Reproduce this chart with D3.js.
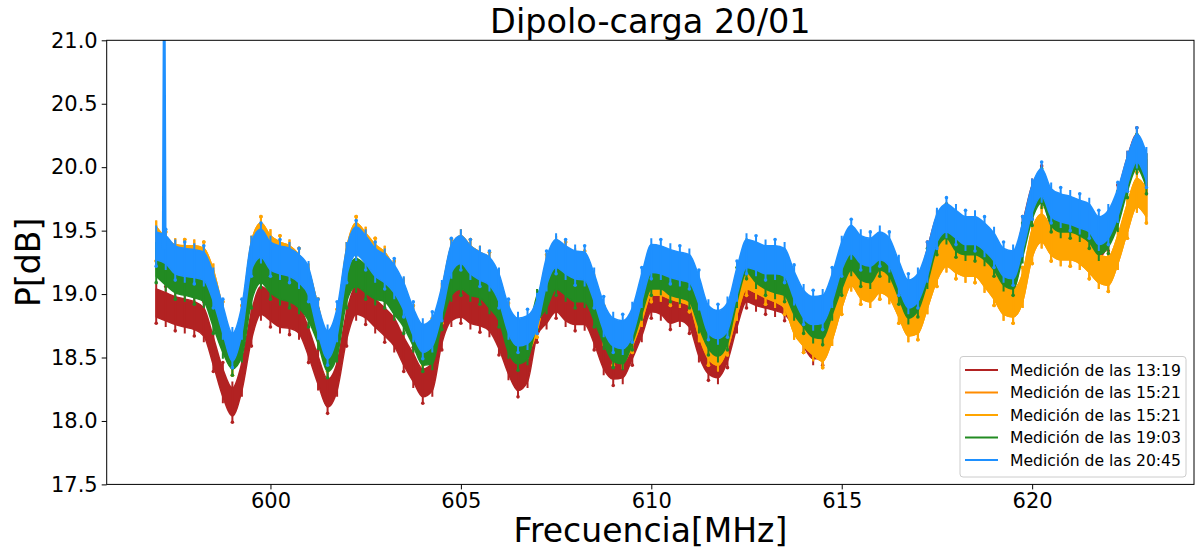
<!DOCTYPE html>
<html><head><meta charset="utf-8">
<script src="https://cdn.jsdelivr.net/npm/d3@7"></script>
<style>
html,body{margin:0;padding:0;background:#fff;}
text{font-family:"DejaVu Sans",sans-serif;fill:#000;}
</style></head>
<body>
<svg id="chart" width="1196" height="551"></svg>
<script>
const freq = [
597.00,597.25,597.50,597.75, 598.00,598.25,598.50,598.75, 599.00,599.25,599.50,599.75,
600.00,600.25,600.50,600.75, 601.00,601.25,601.50,601.75, 602.00,602.25,602.50,602.75,
603.00,603.25,603.50,603.75, 604.00,604.25,604.50,604.75, 605.00,605.25,605.50,605.75,
606.00,606.25,606.50,606.75, 607.00,607.25,607.50,607.75, 608.00,608.25,608.50,608.75,
609.00,609.25,609.50,609.75, 610.00,610.25,610.50,610.75, 611.00,611.25,611.50,611.75,
612.00,612.25,612.50,612.75, 613.00,613.25,613.50,613.75, 614.00,614.25,614.50,614.75,
615.00,615.25,615.50,615.75, 616.00,616.25,616.50,616.75, 617.00,617.25,617.50,617.75,
618.00,618.25,618.50,618.75, 619.00,619.25,619.50,619.75, 620.00,620.25,620.50,620.75,
621.00,621.25,621.50,621.75, 622.00,622.25,622.50,622.75, 623.00];

const p1319 = [
18.93,18.90,18.87,18.85, 18.83,18.78,18.55,18.30, 18.15,18.35,18.75,18.95,
18.90,18.85,18.84,18.80, 18.62,18.40,18.22,18.35, 18.75,18.95,18.92,18.85,
18.78,18.70,18.55,18.42, 18.30,18.35,18.72,18.90, 18.93,18.88,18.86,18.82,
18.68,18.48,18.35,18.42, 18.78,18.88,18.97,18.90, 18.87,18.87,18.72,18.52,
18.44,18.45,18.60,18.78, 18.97,18.95,18.88,18.90, 18.85,18.62,18.48,18.45,
18.58,18.85,19.05,19.02, 19.00,18.98,18.95,18.85, 18.70,18.60,18.60,18.92,
19.15,19.28,19.20,19.18, 19.27,19.22,19.05,18.90, 18.98,19.25,19.50,19.55,
19.45,19.40,19.40,19.36, 19.28,19.17,19.15,19.45, 19.75,19.85,19.65,19.60,
19.58,19.55,19.50,19.40, 19.50,19.70,19.97,20.15, 19.95];

const p1521 = [
19.42,19.33,19.28,19.27, 19.27,19.25,19.08,18.78, 18.52,18.75,19.30,19.45,
19.35,19.30,19.27,19.20, 19.08,18.80,18.55,18.72, 19.25,19.45,19.37,19.28,
19.22,19.10,18.97,18.75, 18.60,18.65,18.93,19.27, 19.35,19.27,19.22,19.17,
19.03,18.77,18.62,18.65, 18.82,19.15,19.30,19.25, 19.20,19.18,19.00,18.75,
18.60,18.57,18.70,18.90, 19.10,19.10,19.07,19.05, 19.02,18.78,18.60,18.55,
18.68,18.95,19.15,19.12, 19.08,19.05,19.00,18.80, 18.70,18.63,18.58,18.75,
19.00,19.18,19.08,19.05, 19.12,19.08,18.93,18.78, 18.80,19.00,19.22,19.33,
19.28,19.25,19.25,19.17, 19.07,18.95,18.93,19.05, 19.40,19.52,19.42,19.38,
19.38,19.35,19.28,19.20, 19.18,19.35,19.60,19.80, 19.72];

const p1903 = [
19.25,19.18,19.12,19.10, 19.08,19.05,18.85,18.65, 18.52,18.62,19.05,19.20,
19.12,19.07,19.05,19.00, 18.90,18.72,18.50,18.62, 19.05,19.17,19.12,19.07,
19.05,18.95,18.85,18.70, 18.55,18.56,18.88,19.10, 19.15,19.10,19.08,19.00,
18.90,18.65,18.56,18.60, 18.88,19.00,19.15,19.10, 19.05,19.05,18.90,18.72,
18.58,18.56,18.72,18.95, 19.15,19.15,19.10,19.08, 19.05,18.85,18.68,18.62,
18.72,19.05,19.28,19.20, 19.15,19.12,19.10,18.95, 18.85,18.77,18.76,18.95,
19.15,19.30,19.22,19.20, 19.30,19.25,19.08,18.92, 18.98,19.20,19.47,19.55,
19.45,19.42,19.42,19.38, 19.30,19.18,19.15,19.40, 19.70,19.83,19.65,19.60,
19.60,19.57,19.52,19.42, 19.48,19.65,19.92,20.10, 19.95];

const p2045 = [
19.38,19.35,19.27,19.25, 19.24,19.22,19.05,18.80, 18.58,18.80,19.30,19.40,
19.30,19.27,19.25,19.20, 19.10,18.80,18.60,18.78, 19.25,19.42,19.35,19.25,
19.20,19.12,18.98,18.78, 18.65,18.70,18.95,19.28, 19.35,19.27,19.22,19.18,
19.05,18.80,18.70,18.72, 18.85,19.18,19.32,19.27, 19.23,19.22,19.05,18.82,
18.70,18.68,18.78,19.05, 19.28,19.27,19.24,19.22, 19.20,19.03,18.80,18.76,
18.82,19.10,19.32,19.30, 19.27,19.27,19.25,19.07, 18.92,18.87,18.88,19.05,
19.30,19.43,19.35,19.33, 19.38,19.33,19.15,19.00, 19.05,19.25,19.52,19.60,
19.55,19.50,19.50,19.45, 19.37,19.25,19.23,19.45, 19.75,19.88,19.72,19.68,
19.66,19.63,19.60,19.50, 19.55,19.72,19.97,20.15, 20.00];

// single-sample spike in the 20:45 measurement
const spikeFreq = [597.18, 597.21, 597.24];
const spikeP = [19.35, 21.60, 19.35];

const seriesLabels = ["Medición de las 13:19","Medición de las 15:21","Medición de las 15:21","Medición de las 19:03","Medición de las 20:45"];
const seriesValues = [p1319, p1521, p1521, p1903, p2045];
const seriesColors = ["#b22222","#ff8c00","#ffa500","#228b22","#1e90ff"];

const xTicks = [600,605,610,615,620];
const yTicks = [17.5,18.0,18.5,19.0,19.5,20.0,20.5,21.0];

const svg = d3.select("#chart");
const L = 106.7, R = 1194, T = 40.3, B = 484.4;
const x = d3.scaleLinear().domain([595.7, 624.25]).range([L, R]);
const y = d3.scaleLinear().domain([17.5, 21.0]).range([B, T]);

svg.append("defs").append("clipPath").attr("id","clip")
  .append("rect").attr("x",L).attr("y",T).attr("width",R-L).attr("height",B-T);

const plot = svg.append("g").attr("clip-path","url(#clip)");
const band = 0.11, bar = 0.16;

seriesValues.forEach((vals, si) => {
  const col = seriesColors[si];
  const pts = freq.map((f,i)=>({f, v: vals[i]}));
  const g = plot.append("g");
  g.append("path").datum(pts)
    .attr("fill", col).attr("stroke", col).attr("stroke-width", 1.5).attr("stroke-linejoin","round")
    .attr("d", d3.area().curve(d3.curveMonotoneX).x(d=>x(d.f)).y0(d=>y(d.v-band)).y1(d=>y(d.v+band)));
  g.selectAll("line.eb").data(pts).enter().append("line")
    .attr("x1",d=>x(d.f)).attr("x2",d=>x(d.f))
    .attr("y1",d=>y(d.v-bar)).attr("y2",d=>y(d.v+bar))
    .attr("stroke",col).attr("stroke-width",2);
  g.selectAll("circle.mk").data(pts).enter().append("circle")
    .attr("cx",d=>x(d.f)).attr("r",1.8)
    .attr("cy",(d,i)=>y(i%2 ? d.v+bar : d.v-bar))
    .attr("fill",col);
  if (si === 4) {
    g.append("path").datum(spikeFreq.map((f,i)=>({f, v: spikeP[i]})))
      .attr("fill","none").attr("stroke",col).attr("stroke-width",2.5)
      .attr("d", d3.line().x(d=>x(d.f)).y(d=>y(d.v)));
  }
});

// axes
const xAxis = svg.append("g").attr("transform",`translate(0,${B})`)
  .call(d3.axisBottom(x).tickValues(xTicks).tickSize(5).tickPadding(4).tickFormat(d3.format("d")));
const yAxis = svg.append("g").attr("transform",`translate(${L},0)`)
  .call(d3.axisLeft(y).tickValues(yTicks).tickSize(5).tickPadding(4).tickFormat(d3.format(".1f")));
[xAxis,yAxis].forEach(a=>{
  a.select(".domain").remove();
  a.selectAll(".tick line").attr("stroke","#000").attr("stroke-width",1);
  a.selectAll(".tick text").attr("font-size",21).attr("font-family","DejaVu Sans").attr("fill","#000");
});
svg.append("rect").attr("x",L).attr("y",T).attr("width",R-L).attr("height",B-T)
  .attr("fill","none").attr("stroke","#000").attr("stroke-width",1);

// title & labels
svg.append("text").attr("x",(L+R)/2).attr("y",33).attr("text-anchor","middle")
  .attr("font-size",33.5).text("Dipolo-carga 20/01");
svg.append("text").attr("x",(L+R)/2).attr("y",542).attr("text-anchor","middle")
  .attr("font-size",33).text("Frecuencia[MHz]");
svg.append("text").attr("transform",`translate(40,${(T+B)/2}) rotate(-90)`).attr("text-anchor","middle")
  .attr("font-size",33).text("P[dB]");

// legend
const lg = svg.append("g");
lg.append("rect").attr("x",960).attr("y",356.5).attr("width",226).attr("height",120.5).attr("rx",3)
  .attr("fill","#fff").attr("fill-opacity",0.8).attr("stroke","#cccccc").attr("stroke-width",1);
seriesLabels.forEach((lab,i)=>{
  const yy = 370 + i*22.5;
  lg.append("line").attr("x1",965).attr("x2",998).attr("y1",yy).attr("y2",yy)
    .attr("stroke",seriesColors[i]).attr("stroke-width",2);
  lg.append("text").attr("x",1010).attr("y",yy+5.5).attr("font-size",15.6).text(lab);
});
</script>
</body></html>
